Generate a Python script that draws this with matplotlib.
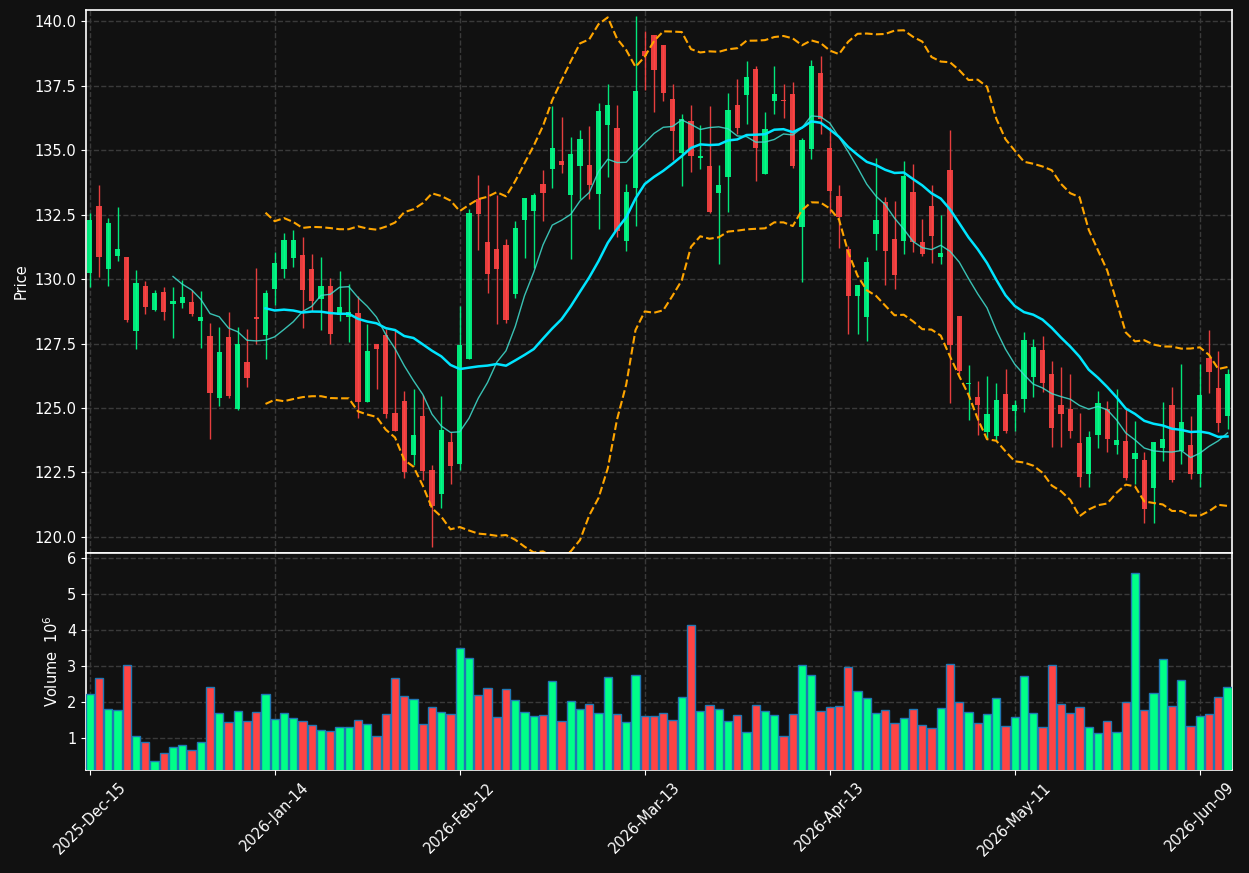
import numpy as np
import pandas as pd
from matplotlib import pyplot as plt

# trading days (NYSE holidays removed)
holidays = ["2025-12-25", "2026-01-01", "2026-01-19", "2026-02-16", "2026-04-03", "2026-05-25"]
dates = pd.bdate_range("2025-12-15", periods=124, freq="C", holidays=holidays)

opens = [130.23, 132.83, 130.38, 130.89, 130.85, 127.97, 129.73, 128.80, 129.50, 129.04,
         129.08, 129.11, 128.38, 127.79, 125.40, 127.75, 124.95, 126.78, 128.50, 127.84,
         129.62, 130.38, 130.83, 130.93, 130.39, 129.24, 129.73, 128.62, 128.54, 128.68,
         125.24, 127.48, 127.82, 124.81, 125.27, 123.18, 124.69, 122.60, 121.67, 123.68,
         122.83, 126.91, 133.09, 131.43, 131.16, 131.32, 129.42, 132.29, 132.64, 133.68,
         134.28, 134.57, 133.27, 134.39, 134.42, 133.31, 135.98, 135.86, 131.48, 133.54,
         138.84, 139.46, 139.07, 137.00, 134.90, 136.12, 134.70, 134.39, 133.35, 133.97,
         136.74, 137.14, 138.14, 134.08, 136.91, 136.95, 137.17, 132.03, 135.06, 138.00,
         135.09, 133.22, 131.16, 129.35, 128.54, 131.76, 132.98, 131.55, 131.46, 133.37,
         131.43, 132.83, 130.86, 134.22, 128.57, 125.92, 125.44, 124.08, 123.91, 125.54,
         124.90, 125.34, 126.21, 127.25, 126.32, 125.10, 124.96, 123.63, 122.44, 123.97,
         124.96, 123.58, 123.72, 123.03, 122.98, 121.91, 123.46, 125.10, 123.34, 123.57,
         122.45, 126.95, 125.78, 124.70]
highs = [132.56, 133.64, 132.35, 132.78, 130.87, 130.35, 129.91, 129.56, 129.69, 129.69,
         129.97, 129.57, 129.52, 128.28, 128.13, 128.71, 128.13, 128.07, 130.41, 129.57,
         131.03, 131.79, 131.89, 131.64, 130.98, 130.84, 130.03, 130.30, 129.79, 129.35,
         128.26, 127.48, 128.05, 128.02, 125.66, 125.72, 125.50, 122.79, 125.47, 124.08,
         128.95, 132.70, 134.03, 133.64, 133.26, 131.54, 132.24, 133.14, 133.35, 134.22,
         136.72, 136.27, 135.49, 135.78, 135.92, 136.81, 137.58, 136.76, 133.68, 140.19,
         139.62, 139.46, 139.07, 137.56, 136.40, 136.74, 135.97, 136.70, 134.42, 137.20,
         137.74, 138.46, 138.27, 136.46, 138.26, 137.56, 137.63, 135.48, 138.49, 138.64,
         135.90, 133.64, 131.29, 129.76, 130.84, 134.68, 133.19, 133.01, 134.57, 134.48,
         132.31, 133.63, 132.47, 135.77, 128.57, 126.67, 126.06, 126.24, 125.98, 126.50,
         125.31, 127.96, 127.66, 127.79, 126.83, 126.60, 126.32, 124.79, 124.11, 125.66,
         125.27, 125.72, 124.96, 124.48, 123.28, 123.68, 125.22, 125.83, 126.69, 124.69,
         126.71, 128.02, 127.21, 126.51]
lows = [129.69, 130.09, 129.74, 130.70, 128.35, 127.27, 128.63, 128.76, 128.40, 127.72,
        128.86, 128.55, 127.31, 123.80, 125.08, 125.38, 124.92, 125.80, 127.48, 126.90,
        129.00, 130.03, 130.48, 128.09, 128.77, 128.01, 127.48, 128.36, 127.55, 124.60,
        125.24, 125.72, 124.60, 124.12, 122.28, 122.79, 122.21, 119.60, 121.11, 122.04,
        122.60, 126.91, 131.12, 129.47, 128.24, 128.28, 129.25, 130.80, 130.41, 132.27,
        133.52, 134.10, 130.76, 133.10, 133.11, 131.93, 133.94, 131.64, 131.07, 132.07,
        137.33, 136.48, 136.92, 134.61, 133.60, 134.16, 134.25, 132.57, 130.57, 132.61,
        135.61, 136.00, 133.79, 134.08, 136.38, 136.23, 134.31, 129.90, 134.64, 135.61,
        132.55, 131.21, 127.86, 127.86, 127.60, 131.11, 129.76, 129.62, 130.96, 131.06,
        130.90, 130.61, 130.57, 125.18, 126.30, 124.53, 123.95, 123.83, 123.76, 124.02,
        124.12, 124.86, 125.44, 125.63, 123.50, 123.49, 123.83, 121.95, 121.93, 123.44,
        123.31, 123.21, 122.21, 122.05, 120.55, 120.53, 122.96, 122.13, 122.83, 122.24,
        121.95, 125.57, 124.06, 124.19]
closes = [132.29, 130.86, 132.18, 131.16, 128.41, 129.84, 128.93, 129.45, 128.72, 129.16,
          129.31, 128.66, 128.54, 125.59, 127.17, 125.47, 127.48, 126.17, 128.47, 129.45,
          130.61, 131.51, 131.51, 129.59, 129.16, 129.73, 127.88, 128.90, 128.71, 125.24,
          127.21, 127.30, 124.78, 124.12, 122.52, 123.95, 122.56, 121.20, 124.15, 122.75,
          127.44, 132.57, 132.52, 130.21, 130.39, 128.41, 131.98, 133.14, 133.26, 133.35,
          135.08, 134.43, 134.84, 135.43, 133.66, 136.51, 136.74, 131.87, 133.37, 137.29,
          138.64, 138.10, 137.23, 135.75, 136.20, 134.78, 134.77, 132.61, 133.64, 136.55,
          135.86, 137.83, 135.09, 135.81, 137.17, 136.92, 134.39, 135.39, 138.26, 136.21,
          133.41, 132.41, 129.35, 129.76, 130.66, 132.29, 131.10, 130.17, 133.99, 131.45,
          130.98, 131.68, 131.00, 127.44, 126.45, 125.95, 125.12, 124.77, 125.31, 124.12,
          125.12, 127.64, 127.35, 125.96, 124.24, 124.78, 124.12, 122.34, 123.88, 125.18,
          123.81, 123.75, 122.27, 123.26, 121.09, 123.68, 123.79, 122.22, 124.46, 122.45,
          125.50, 126.41, 124.41, 126.32]
# volume in millions
volumes = [2.22, 2.66, 1.80, 1.78, 3.02, 1.06, 0.89, 0.36, 0.58, 0.75,
           0.81, 0.67, 0.89, 2.41, 1.69, 1.44, 1.75, 1.47, 1.72, 2.22,
           1.53, 1.69, 1.55, 1.47, 1.36, 1.22, 1.19, 1.30, 1.30, 1.50,
           1.39, 1.06, 1.66, 2.66, 2.16, 2.08, 1.39, 1.86, 1.72, 1.66,
           3.49, 3.22, 2.19, 2.39, 1.58, 2.36, 2.05, 1.72, 1.61, 1.64,
           2.58, 1.47, 2.02, 1.80, 1.94, 1.69, 2.69, 1.66, 1.44, 2.75,
           1.61, 1.61, 1.69, 1.50, 2.14, 4.13, 1.75, 1.91, 1.80, 1.47,
           1.64, 1.17, 1.91, 1.75, 1.64, 1.06, 1.66, 3.02, 2.75, 1.75,
           1.86, 1.89, 2.97, 2.30, 2.11, 1.69, 1.78, 1.42, 1.55, 1.80,
           1.36, 1.28, 1.83, 3.05, 2.00, 1.72, 1.42, 1.66, 2.11, 1.33,
           1.58, 2.72, 1.69, 1.30, 3.02, 1.94, 1.69, 1.86, 1.30, 1.14,
           1.47, 1.17, 2.00, 5.57, 1.78, 2.25, 3.19, 1.89, 2.61, 1.33,
           1.61, 1.66, 2.14, 2.41]

bg = "#111111"
up_color = "#00ff88"
down_color = "#ff4444"
grid_color = "#3a3a3a"

df = pd.DataFrame({"Open": opens, "High": highs, "Low": lows, "Close": closes,
                   "Volume": volumes}, index=dates)
x = np.arange(len(df))
is_up = df["Close"] >= df["Open"]
colors = [up_color if u else down_color for u in is_up]

# moving averages and bollinger bands (population std)
ma10 = df["Close"].rolling(10).mean()
ma20 = df["Close"].rolling(20).mean()
std20 = df["Close"].rolling(20).std(ddof=0)
bb_up = ma20 + 2 * std20
bb_low = ma20 - 2 * std20

plt.rcParams["font.family"] = "DejaVu Sans"
fig = plt.figure(figsize=(12.49, 8.73), dpi=100, facecolor=bg)
ax = fig.add_axes([0.0689, 0.3666, 0.9176, 0.6219])
axv = fig.add_axes([0.0689, 0.118, 0.9176, 0.2486], sharex=ax)

for a in (ax, axv):
    a.set_facecolor(bg)
    for s in a.spines.values():
        s.set_color("white")
        s.set_linewidth(1.2)
    a.tick_params(colors="white", labelsize=10.5)
    a.grid(True, color=grid_color, linestyle="--", linewidth=1)
    a.set_axisbelow(True)

# candles
ax.vlines(x, df["Low"], df["High"], colors=colors, linewidth=1, alpha=0.9, zorder=2)
body = (df["Close"] - df["Open"]).abs().clip(lower=0.04)
bottom = df[["Open", "Close"]].min(axis=1)
ax.bar(x, body, bottom=bottom, width=0.55, color=colors, alpha=0.9, zorder=3)

# overlays
ax.plot(x, ma10, color="#40e0d0", linewidth=1, alpha=0.85, zorder=4)
ax.plot(x, ma20, color="#00e5ff", linewidth=1.8, zorder=4)
ax.plot(x, bb_up, color="orange", linestyle="--", linewidth=1.5, zorder=4)
ax.plot(x, bb_low, color="orange", linestyle="--", linewidth=1.5, zorder=4)

ax.set_ylim(119.38, 140.43)
ax.set_yticks(np.arange(120, 140.1, 2.5))
ax.yaxis.set_major_formatter(plt.FormatStrFormatter("%.1f"))
ax.set_ylabel("Price", color="white", fontsize=10.5)
plt.setp(ax.get_xticklabels(), visible=False)

# volume
axv.bar(x, df["Volume"], width=0.9, color=colors, edgecolor="#1f77b4", linewidth=1, zorder=3)
axv.set_ylim(0.11, 6.13)
axv.set_yticks([1, 2, 3, 4, 5, 6])
axv.set_ylabel("Volume  $10^{6}$", color="white", fontsize=10.5)

tick_pos = list(range(0, len(df), 20))
tick_labels = [dates[i].strftime("%Y-%b-%d") for i in tick_pos]
axv.set_xticks(tick_pos)
axv.set_xticklabels(tick_labels, rotation=45)
axv.set_xlim(-0.4, 123.5)

fig.savefig("out.png", dpi=100, facecolor=bg)
